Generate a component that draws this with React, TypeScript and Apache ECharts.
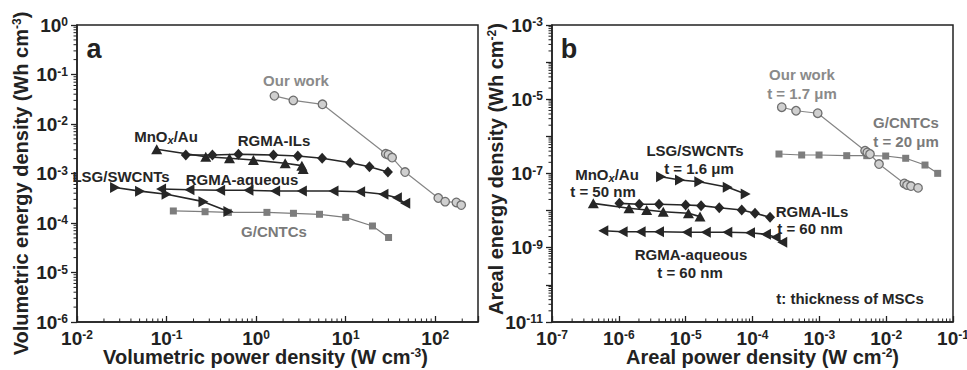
import React, { useEffect, useRef } from 'react';
import * as echarts from 'echarts';

const FONT = '"Liberation Sans", Arial, Helvetica, sans-serif';
const DARK = '#262626';
const GRAY = '#868686';
const TXT = '#222222';

// ---------- panel a: volumetric ----------
const volOurWork = [[1.6, 0.037], [2.6, 0.030], [5.5, 0.025], [28, 0.0025], [30, 0.0024], [33, 0.0021], [46, 0.00107], [108, 3.2e-4], [129, 2.7e-4], [172, 2.6e-4], [195, 2.3e-4]];
const volRgmaIls = [[0.164, 2.37e-3], [0.325, 2.37e-3], [0.634, 2.44e-3], [1.56, 2.37e-3], [2.92, 2.26e-3], [5.46, 2.03e-3], [11.2, 1.65e-3], [18.4, 1.37e-3], [29.6, 1.07e-3]];
const volMnox = [[0.0776, 3.08e-3], [0.274, 2.18e-3], [0.504, 2.03e-3], [0.933, 1.87e-3], [2.11, 1.61e-3], [3.24, 1.44e-3], [3.35, 1.23e-3]];
const volLsg = [[0.0266, 5.2e-4], [0.0506, 4.4e-4], [0.1, 3.8e-4], [0.258, 2.7e-4], [0.49, 1.7e-4]];
const volRgmaAq = [[0.0868, 4.86e-4], [0.18, 4.71e-4], [0.396, 4.58e-4], [0.82, 4.58e-4], [1.63, 4.43e-4], [3.24, 4.43e-4], [7.31, 4.43e-4], [14.5, 4.29e-4], [26.4, 3.8e-4], [37.3, 3.24e-4], [46.2, 2.5e-4]];
const volGcntc = [[0.119, 1.75e-4], [0.269, 1.69e-4], [0.49, 1.64e-4], [1.32, 1.64e-4], [2.61, 1.57e-4], [5.1, 1.5e-4], [10.0, 1.3e-4], [19.9, 8.7e-5], [30.1, 5.1e-5]];

// ---------- panel b: areal ----------
const arOurWork = [[2.74e-4, 6.1e-6], [4.48e-4, 4.9e-6], [9.46e-4, 4.2e-6], [4.83e-3, 4.1e-7], [5.22e-3, 3.7e-7], [5.73e-3, 3.35e-7], [7.82e-3, 1.8e-7], [0.0187, 5.4e-8], [0.0205, 4.9e-8], [0.0235, 4.6e-8], [0.03, 4.1e-8]];
const arGcntc = [[2.49e-4, 3.35e-7], [5.44e-4, 3.15e-7], [9.9e-4, 3.15e-7], [2.57e-3, 3.02e-7], [5.12e-3, 3.02e-7], [9.84e-3, 2.96e-7], [0.0196, 2.57e-7], [0.0381, 1.69e-7], [0.059, 1.01e-7]];
const arLsg = [[4.28e-6, 8.2e-8], [8.22e-6, 6.7e-8], [1.6e-5, 6.0e-8], [4.26e-5, 4.25e-8], [7.9e-5, 2.8e-8]];
const arRgmaIls = [[1.02e-6, 1.57e-8], [2.02e-6, 1.48e-8], [3.99e-6, 1.48e-8], [1.0e-5, 1.42e-8], [1.7e-5, 1.36e-8], [3.18e-5, 1.2e-8], [6.9e-5, 1.04e-8], [1.09e-4, 8.5e-9], [1.83e-4, 6.6e-9]];
const arMnox = [[4.15e-7, 1.57e-8], [1.42e-6, 1.16e-8], [2.61e-6, 1.04e-8], [4.62e-6, 9.35e-9], [1.1e-5, 8.5e-9], [1.64e-5, 6.9e-9]];
const arRgmaAq = [[5.86e-7, 2.88e-9], [1.14e-6, 2.71e-9], [2.12e-6, 2.71e-9], [3.99e-6, 2.71e-9], [1.04e-5, 2.61e-9], [2.0e-5, 2.61e-9], [4.2e-5, 2.61e-9], [9.18e-5, 2.54e-9], [1.59e-4, 2.3e-9], [2.22e-4, 1.91e-9], [2.79e-4, 1.4e-9]];

// axis ranges
const volX = [0.01, 300];
const volY = [1e-6, 1];
const arX = [1e-7, 0.1];
const arY = [1e-11, 1e-3];

function minorValues(lo: number, hi: number) {
  const out: number[] = [];
  const k0 = Math.floor(Math.log10(lo) + 1e-9);
  const k1 = Math.ceil(Math.log10(hi) - 1e-9);
  for (let k = k0; k < k1; k++) {
    for (let m = 2; m <= 9; m++) {
      const v = m * Math.pow(10, k);
      if (v > lo * 1.0001 && v < hi * 0.9999) out.push(v);
    }
  }
  return out;
}

const supRich = {
  b: { fontSize: 19, fontWeight: 'bold', fontFamily: FONT, color: TXT, lineHeight: 18 },
  s: { fontSize: 12, fontWeight: 'bold', fontFamily: FONT, color: TXT, lineHeight: 9, verticalAlign: 'top' },
};
const nameRich = {
  n: { fontSize: 20, fontWeight: 'bold', fontFamily: FONT, color: TXT, lineHeight: 20 },
  s: { fontSize: 12, fontWeight: 'bold', fontFamily: FONT, color: TXT, lineHeight: 10, verticalAlign: 'top' },
};

function fmt(skipEven: boolean) {
  return (v: number) => {
    const e = Math.log10(v);
    const r = Math.round(e);
    if (Math.abs(e - r) > 1e-6) return '';
    if (skipEven && Math.abs(r) % 2 === 0) return '';
    return `{b|10}{s|${r}}`;
  };
}

function logAxis(kind: 'x' | 'y', idx: number, range: number[], name: string, nameGap: number, padding: number[], skipEven = false) {
  return {
    type: 'log',
    logBase: 10,
    gridIndex: idx,
    min: range[0],
    max: range[1],
    name,
    nameLocation: 'middle',
    nameGap,
    nameMoveOverlap: false,
    nameTextStyle: { rich: nameRich, padding },
    axisLine: { show: true, lineStyle: { color: TXT, width: 1.5 } },
    axisTick: { show: true, inside: kind === 'x', length: 6, lineStyle: { color: TXT, width: 1.3 } },
    minorTick: { show: false },
    splitLine: { show: false },
    axisLabel: { formatter: fmt(skipEven), rich: supRich, margin: kind === 'x' ? 7 : 9, showMaxLabel: true, showMinLabel: true },
  };
}

function tickSeries(idx: number, xr: number[], yr: number[]) {
  const data: number[][] = [];
  minorValues(xr[0], xr[1]).forEach((v) => data.push([v, yr[0], 0]));
  minorValues(yr[0], yr[1]).forEach((v) => data.push([xr[0], v, 1]));
  return {
    type: 'custom',
    xAxisIndex: idx,
    yAxisIndex: idx,
    silent: true,
    clip: false,
    z: 5,
    data,
    renderItem: (params: any, api: any) => {
      const p = api.coord([api.value(0), api.value(1)]);
      const dir = api.value(2);
      const shape = dir === 0
        ? { x1: p[0], y1: p[1], x2: p[0], y2: p[1] - 3.5 }
        : { x1: p[0], y1: p[1], x2: p[0] - 3.5, y2: p[1] };
      return { type: 'line', shape, style: { stroke: TXT, lineWidth: 1 } };
    },
  };
}

function lineSeries(data: number[][], idx: number, symbol: string, size: any, color: string, width: number, extra: any = {}) {
  return {
    type: 'line',
    xAxisIndex: idx,
    yAxisIndex: idx,
    data,
    symbol,
    symbolSize: size,
    showAllSymbol: true,
    lineStyle: { color, width },
    itemStyle: { color },
    z: 3,
    ...extra,
  };
}

const ourItem = { color: '#cfcfcf', borderColor: '#6e6e6e', borderWidth: 1.3 };

function label(text: string, x: number, y: number, color: string, size = 15, rich?: any) {
  return {
    type: 'text',
    x,
    y,
    z: 10,
    style: {
      text,
      fill: color,
      fontSize: size,
      fontWeight: 'bold',
      fontFamily: FONT,
      align: 'center',
      verticalAlign: 'middle',
      rich,
    },
  };
}

const mnRich = {
  a: { fontSize: 15, fontWeight: 'bold', fontFamily: FONT, fill: DARK, color: DARK, lineHeight: 18 },
  x: { fontSize: 11, fontWeight: 'bold', fontStyle: 'italic', fontFamily: FONT, fill: DARK, color: DARK, lineHeight: 10, verticalAlign: 'bottom' },
};

export default function App() {
  const ref = useRef<HTMLDivElement>(null);
  useEffect(() => {
    if (!ref.current) return;
    const chart = echarts.init(ref.current, null, { renderer: 'svg' });
    const option: any = {
      animation: false,
      backgroundColor: '#ffffff',
      textStyle: { fontFamily: FONT },
      grid: [
        { left: 77, top: 25, width: 401, height: 297, show: true, borderColor: TXT, borderWidth: 1.5, backgroundColor: 'transparent', containLabel: false, outerBoundsMode: 'none' },
        { left: 552, top: 25, width: 401, height: 297, show: true, borderColor: TXT, borderWidth: 1.5, backgroundColor: 'transparent', containLabel: false, outerBoundsMode: 'none' },
      ],
      xAxis: [
        logAxis('x', 0, volX, '{n|Volumetric power density (W cm}{s|-3}{n|)}', 25, [0, 24, 0, 0]),
        logAxis('x', 1, arX, '{n|Areal power density (W cm}{s|-2}{n|)}', 25, [0, 0, 0, 20]),
      ],
      yAxis: [
        logAxis('y', 0, volY, '{n|Volumetric energy density (Wh cm}{s|-3}{n|)}', 46, [0, 20, 0, 0]),
        logAxis('y', 1, arY, '{n|Areal energy density (Wh cm}{s|-2}{n|)}', 46, [0, 0, 0, 9], true),
      ],
      series: [
        tickSeries(0, volX, volY),
        tickSeries(1, arX, arY),
        // panel a
        lineSeries(volGcntc, 0, 'rect', 7, '#7d7d7d', 1.2),
        lineSeries(volRgmaAq, 0, 'triangle', [11, 10], DARK, 1.6, { symbolRotate: 90 }),
        lineSeries(volLsg, 0, 'triangle', [11, 10], DARK, 1.6, { symbolRotate: -90 }),
        lineSeries(volMnox, 0, 'triangle', [11, 10], DARK, 1.6),
        lineSeries(volRgmaIls, 0, 'diamond', [10, 11], DARK, 1.6),
        lineSeries(volOurWork, 0, 'circle', 8.5, GRAY, 1.2, { itemStyle: ourItem }),
        // panel b
        lineSeries(arGcntc, 1, 'rect', 7, '#7d7d7d', 1.2),
        lineSeries(arRgmaAq, 1, 'triangle', [11, 10], DARK, 1.6, { symbolRotate: 90 }),
        lineSeries(arLsg, 1, 'triangle', [11, 10], DARK, 1.6, { symbolRotate: -90 }),
        lineSeries(arMnox, 1, 'triangle', [11, 10], DARK, 1.6),
        lineSeries(arRgmaIls, 1, 'diamond', [10, 11], DARK, 1.6),
        lineSeries(arOurWork, 1, 'circle', 8.5, GRAY, 1.2, { itemStyle: ourItem }),
      ],
      graphic: [
        label('a', 94, 49, TXT, 27),
        label('b', 569, 49, TXT, 27),
        // panel a labels
        label('Our work', 296, 80, '#8a8a8a'),
        label('{a|MnO}{x|x}{a|/Au}', 166, 136, DARK, 15, mnRich),
        label('RGMA-ILs', 274, 140, DARK),
        label('LSG/SWCNTs', 121, 176, DARK),
        label('RGMA-aqueous', 242, 179, DARK),
        label('G/CNTCs', 274, 231, '#7a7a7a'),
        // panel b labels
        label('Our work', 802, 74, '#8a8a8a'),
        label('t = 1.7 μm', 802, 93, '#8a8a8a'),
        label('G/CNTCs', 906, 122, '#7a7a7a'),
        label('t = 20 μm', 906, 141, '#7a7a7a'),
        label('LSG/SWCNTs', 695, 150, DARK),
        label('t = 1.6 μm', 699, 168, DARK),
        label('{a|MnO}{x|x}{a|/Au}', 607, 174, DARK, 15, mnRich),
        label('t = 50 nm', 603, 191, DARK),
        label('RGMA-ILs', 812, 211, DARK),
        label('t = 60 nm', 810, 228, DARK),
        label('RGMA-aqueous', 691, 254, DARK),
        label('t = 60 nm', 690, 272, DARK),
        label('t: thickness of MSCs', 850, 298, DARK),
      ],
    };
    chart.setOption(option);
    return () => chart.dispose();
  }, []);
  return <div ref={ref} style={{ position: 'fixed', left: 0, top: 0, width: 967, height: 370 }} />;
}
